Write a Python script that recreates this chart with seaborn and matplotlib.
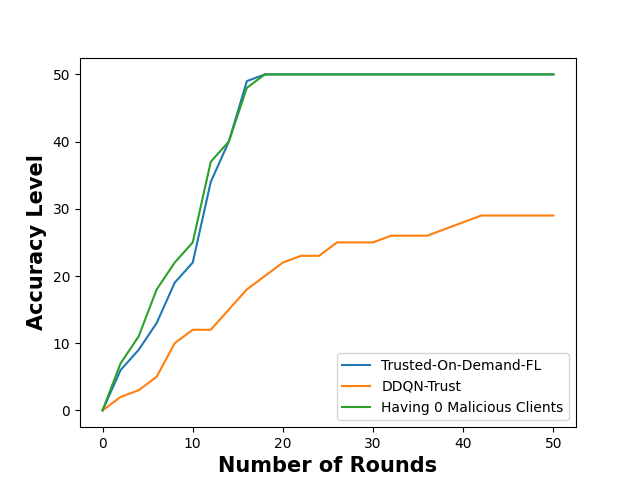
import numpy as np
import pandas as pd
import matplotlib
matplotlib.use("Agg")
import matplotlib.pyplot as plt
import seaborn as sns

# Rounds (every 2 rounds from 0 to 50)
rounds = list(range(0, 52, 2))

# Accuracy per method
trusted_fl = [0, 6, 9, 13, 19, 22, 34, 40, 49, 50, 50, 50, 50,
              50, 50, 50, 50, 50, 50, 50, 50, 50, 50, 50, 50, 50]
ddqn_trust = [0, 2, 3, 5, 10, 12, 12, 15, 18, 20, 22, 23, 23,
              25, 25, 25, 26, 26, 26, 27, 28, 29, 29, 29, 29, 29]
zero_malicious = [0, 7, 11, 18, 22, 25, 37, 40, 48, 50, 50, 50, 50,
                  50, 50, 50, 50, 50, 50, 50, 50, 50, 50, 50, 50, 50]

series_names = ["Trusted-On-Demand-FL", "DDQN-Trust", "Having 0 Malicious Clients"]

df = pd.DataFrame({
    "round": rounds * 3,
    "accuracy": trusted_fl + ddqn_trust + zero_malicious,
    "method": [series_names[0]] * len(rounds)
    + [series_names[1]] * len(rounds)
    + [series_names[2]] * len(rounds),
})

fig, ax = plt.subplots(figsize=(6.4, 4.8), dpi=100)
sns.lineplot(data=df, x="round", y="accuracy", hue="method",
             hue_order=series_names, palette=["#1f77b4", "#ff7f0e", "#2ca02c"],
             ax=ax)

ax.set_xlabel("Number of Rounds", fontsize=15, fontweight="bold")
ax.set_ylabel("Accuracy Level", fontsize=15, fontweight="bold")
ax.legend(loc="lower right")

plt.savefig("out.png", dpi=100)
